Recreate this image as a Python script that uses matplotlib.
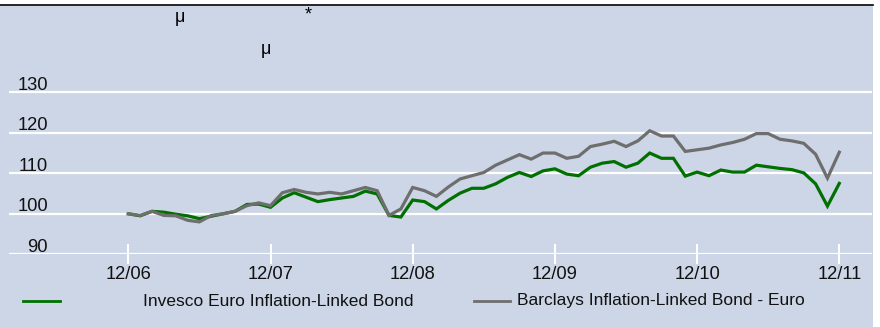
import numpy as np
import matplotlib.pyplot as plt
from matplotlib.lines import Line2D
from matplotlib.patches import Rectangle

plt.rcParams['font.family'] = ['Liberation Sans', 'DejaVu Sans']

# monthly index values, rebased to 100 at 12/06
fund = [100.0, 99.5, 100.6, 100.4, 99.9, 99.5, 98.8, 99.4, 100.0, 100.6,
        102.3, 102.4, 101.6, 103.9, 105.2, 104.1, 103.0, 103.5, 103.9, 104.3,
        105.6, 104.9, 99.6, 99.2, 103.4, 103.0, 101.2, 103.3, 105.1, 106.3,
        106.3, 107.4, 109.0, 110.2, 109.2, 110.6, 111.1, 109.8, 109.4, 111.5,
        112.5, 112.9, 111.5, 112.5, 115.0, 113.7, 113.7, 109.3, 110.3, 109.4,
        110.8, 110.3, 110.3, 112.0, 111.6, 111.2, 110.9, 110.1, 107.4, 101.9,
        107.5]
bench = [100.0, 99.6, 100.6, 99.6, 99.5, 98.4, 98.0, 99.6, 100.0, 100.6,
         102.0, 102.7, 102.0, 105.2, 106.0, 105.3, 104.9, 105.3, 104.9, 105.7,
         106.5, 105.7, 99.6, 101.2, 106.5, 105.7, 104.3, 106.6, 108.6, 109.4,
         110.2, 112.0, 113.3, 114.6, 113.5, 115.0, 115.0, 113.7, 114.2, 116.6,
         117.2, 117.9, 116.6, 118.0, 120.5, 119.2, 119.2, 115.4, 115.8, 116.2,
         117.0, 117.6, 118.4, 119.8, 119.8, 118.4, 118.0, 117.4, 114.7, 108.8,
         115.2]
fund_name = 'Invesco Euro Inflation-Linked Bond'
bench_name = 'Barclays Inflation-Linked Bond - Euro'
year_ticks = [0, 12, 24, 36, 48, 60]
year_labels = ['12/06', '12/07', '12/08', '12/09', '12/10', '12/11']
y_ticks = [90, 100, 110, 120, 130]

bg = '#CDD6E6'
green = '#007000'
grey = '#6E6E6E'
txt = '#111111'

W, H = 880, 327
fig = plt.figure(figsize=(W / 100, H / 100), dpi=100, facecolor='white')

# panel background and thin rule on top
fig.add_artist(Rectangle((0, 0), 873 / W, (H - 6) / H, transform=fig.transFigure,
                         facecolor=bg, edgecolor='none', zorder=-10))
fig.add_artist(Line2D([0, 873 / W], [1 - 5 / H, 1 - 5 / H], transform=fig.transFigure,
                      color='black', lw=1.2))

ax = fig.add_axes([9 / W, (H - 254.3) / H, 863 / W, 248.3 / H])
ax.patch.set_visible(False)
for s in ax.spines.values():
    s.set_visible(False)

months = np.arange(len(fund))
ax.plot(months, bench, color=grey, lw=2.3, solid_joinstyle='miter', zorder=3)
ax.plot(months, fund, color=green, lw=2.3, solid_joinstyle='miter', zorder=2)

ax.set_xlim(-10.07, 62.76)
ax.set_ylim(90, 151.3)

ax.set_yticks(y_ticks)
ax.yaxis.grid(True, color='white', lw=1.6)
ax.tick_params(axis='y', left=False, labelleft=False)
ytr = ax.get_yaxis_transform()
for v in y_ticks:
    ax.text(0.045, v + 0.6, str(v), transform=ytr, ha='right', va='baseline',
            fontsize=13.2, color=txt)

ax.set_xticks(year_ticks)
ax.set_xticklabels(year_labels, fontsize=13.2, color=txt)
ax.tick_params(axis='x', direction='inout', length=14, width=1.5, color='white', pad=1.5)
ax.set_axisbelow(True)

# stray glyphs in the header area
fig.text(180 / W, 1 - 18 / H, 'μ', fontsize=13, ha='center', va='center')
fig.text(308 / W, 1 - 15 / H, '*', fontsize=13, ha='center', va='center')
fig.text(266 / W, 1 - 50 / H, 'μ', fontsize=13, ha='center', va='center')

# legend
ly = 1 - 301 / H
fig.add_artist(Line2D([23 / W, 60 / W], [ly, ly], transform=fig.transFigure,
                      color=green, lw=2))
fig.text(143 / W, ly, fund_name, fontsize=12.5, ha='left', va='center', color=txt)
fig.add_artist(Line2D([474 / W, 510 / W], [ly, ly], transform=fig.transFigure,
                      color=grey, lw=2))
fig.text(517 / W, ly, bench_name, fontsize=12.5, ha='left', va='center', color=txt)

fig.savefig('out.png', dpi=100, facecolor='white')
